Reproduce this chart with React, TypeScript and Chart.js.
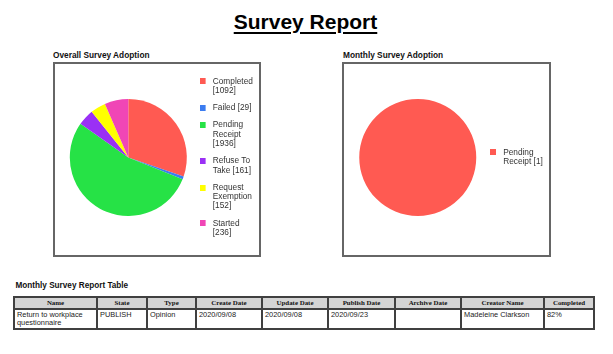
import React, { useEffect, useRef } from "react";
import { Chart, registerables } from "chart.js";

Chart.register(...registerables);

// ---- data ----
const overallLabels = ["Completed", "Failed", "Pending Receipt", "Refuse To Take", "Request Exemption", "Started"];
const overallValues = [1092, 29, 1936, 161, 152, 236];
const overallColors = ["#ff5a52", "#3b7cf0", "#26e246", "#9a30f5", "#ffff00", "#f046b6"];

const monthlyLabels = ["Pending Receipt"];
const monthlyValues = [1];
const monthlyColors = ["#ff5a52"];

const tableColumns = ["Name", "State", "Type", "Create Date", "Update Date", "Publish Date", "Archive Date", "Creator Name", "Completed"];
const tableRow = ["Return to workplace questionnaire", "PUBLISH", "Opinion", "2020/09/08", "2020/09/08", "2020/09/23", "", "Madeleine Clarkson", "82%"];

// ---- layout ----
const SANS = "'Liberation Sans', Arial, sans-serif";
const SERIF = "'Liberation Serif', 'Times New Roman', serif";
const colWidths = [83, 50, 49, 66, 66, 67, 66, 83, 50];
const LEGEND_FONT = { family: SANS, size: 8.3, lineHeight: 1.12 };

function wrapText(ctx: CanvasRenderingContext2D, text: string, maxW: number): string[] {
  const words = text.split(" ");
  const lines: string[] = [];
  let cur = "";
  for (const w of words) {
    const test = cur ? cur + " " + w : w;
    if (cur && ctx.measureText(test).width > maxW) {
      lines.push(cur);
      cur = w;
    } else {
      cur = test;
    }
  }
  if (cur) lines.push(cur);
  return lines;
}

function swatch(color: string): HTMLCanvasElement {
  const c = document.createElement("canvas");
  c.width = 9;
  c.height = 6;
  const g = c.getContext("2d")!;
  g.fillStyle = color;
  g.fillRect(0, 0, 6, 6);
  return c;
}

type PieProps = {
  labels: string[];
  values: number[];
  colors: string[];
  left: number;
  top: number;
  width: number;
  height: number;
  padLeft: number;
  padRight: number;
};

function PieBox({ labels, values, colors, left, top, width, height, padLeft, padRight }: PieProps) {
  const ref = useRef<HTMLCanvasElement>(null);
  useEffect(() => {
    if (!ref.current) return;
    const chart = new Chart(ref.current, {
      type: "pie",
      data: {
        labels,
        datasets: [
          {
            data: values,
            backgroundColor: colors,
            borderWidth: 0,
            radius: 58.5,
          } as any,
        ],
      },
      options: {
        responsive: false,
        animation: false,
        layout: { padding: { left: padLeft, right: padRight } },
        plugins: {
          tooltip: { enabled: false },
          legend: {
            position: "right",
            align: "center",
            maxWidth: 68,
            labels: {
              usePointStyle: true,
              pointStyleWidth: 9,
              padding: 8,
              color: "#333",
              font: LEGEND_FONT as any,
              generateLabels: (ch: any) => {
                const ctx: CanvasRenderingContext2D = ch.ctx;
                ctx.save();
                ctx.font = `${LEGEND_FONT.size}px ${SANS}`;
                const items = (ch.data.labels as string[]).map((lab, i) => {
                  const val = ch.data.datasets[0].data[i];
                  return {
                    text: wrapText(ctx, `${lab} [${val}]`, 43) as any,
                    fillStyle: colors[i],
                    strokeStyle: colors[i],
                    lineWidth: 0,
                    hidden: false,
                    index: i,
                    pointStyle: swatch(colors[i]),
                    fontColor: "#333",
                  };
                });
                ctx.restore();
                return items;
              },
            },
          },
        },
      },
    });
    return () => chart.destroy();
  }, []);
  return (
    <canvas
      ref={ref}
      width={width}
      height={height}
      style={{ position: "absolute", left, top, width, height }}
    />
  );
}

export default function App() {
  Chart.defaults.font.family = SANS;
  const boxStyle: React.CSSProperties = {
    position: "absolute",
    border: "2px solid #666",
    boxSizing: "border-box",
  };
  const subStyle: React.CSSProperties = {
    position: "absolute",
    font: `bold 8.3px/8.3px ${SANS}`,
    color: "#111",
    whiteSpace: "nowrap",
  };
  const cellBorder = "2px solid #404040";
  return (
    <div
      style={{
        position: "absolute",
        left: 0,
        top: 0,
        width: 613,
        height: 354,
        background: "#fff",
        overflow: "hidden",
      }}
    >
      <div
        style={{
          position: "absolute",
          left: 0,
          top: 10.5,
          width: 611,
          textAlign: "center",
          font: `bold 21px/21px ${SANS}`,
          color: "#000",
          textDecoration: "underline",
          textDecorationThickness: "2px",
          textUnderlineOffset: "3px",
        }}
      >
        Survey Report
      </div>

      <div style={{ ...subStyle, left: 53, top: 51 }}>Overall Survey Adoption</div>
      <div style={{ ...subStyle, left: 343, top: 51 }}>Monthly Survey Adoption</div>

      <div style={{ ...boxStyle, left: 53, top: 62, width: 208, height: 195 }} />
      <div style={{ ...boxStyle, left: 342, top: 62, width: 209, height: 195 }} />

      <PieBox
        labels={overallLabels}
        values={overallValues}
        colors={overallColors}
        left={55}
        top={64}
        width={205}
        height={187}
        padLeft={10}
        padRight={0.4}
      />
      <PieBox
        labels={monthlyLabels}
        values={monthlyValues}
        colors={monthlyColors}
        left={344}
        top={64}
        width={206}
        height={187}
        padLeft={9.5}
        padRight={0}
      />

      <div style={{ ...subStyle, font: `bold 8.2px/8.2px ${SANS}`, left: 15.5, top: 281.5 }}>
        Monthly Survey Report Table
      </div>

      <table
        style={{
          position: "absolute",
          left: 13,
          top: 296,
          width: 580,
          borderCollapse: "collapse",
          tableLayout: "fixed",
        }}
      >
        <colgroup>
          {colWidths.map((w, i) => (
            <col key={i} style={{ width: w }} />
          ))}
        </colgroup>
        <thead>
          <tr>
            {tableColumns.map((c, i) => (
              <th
                key={i}
                style={{
                  border: cellBorder,
                  background: "#d4d4d4",
                  font: `bold 6.9px/8px ${SERIF}`,
                  color: "#111",
                  padding: "0 2px",
                  height: 9.5,
                  textAlign: "center",
                  whiteSpace: "nowrap",
                  overflow: "hidden",
                }}
              >
                {c}
              </th>
            ))}
          </tr>
        </thead>
        <tbody>
          <tr>
            {tableRow.map((v, i) => (
              <td
                key={i}
                style={{
                  border: cellBorder,
                  font: `7.4px/8.4px ${SANS}`,
                  color: "#222",
                  verticalAlign: "top",
                  padding: "1px 2px",
                  height: 19.5,
                  boxSizing: "border-box",
                }}
              >
                {v}
              </td>
            ))}
          </tr>
        </tbody>
      </table>
    </div>
  );
}
